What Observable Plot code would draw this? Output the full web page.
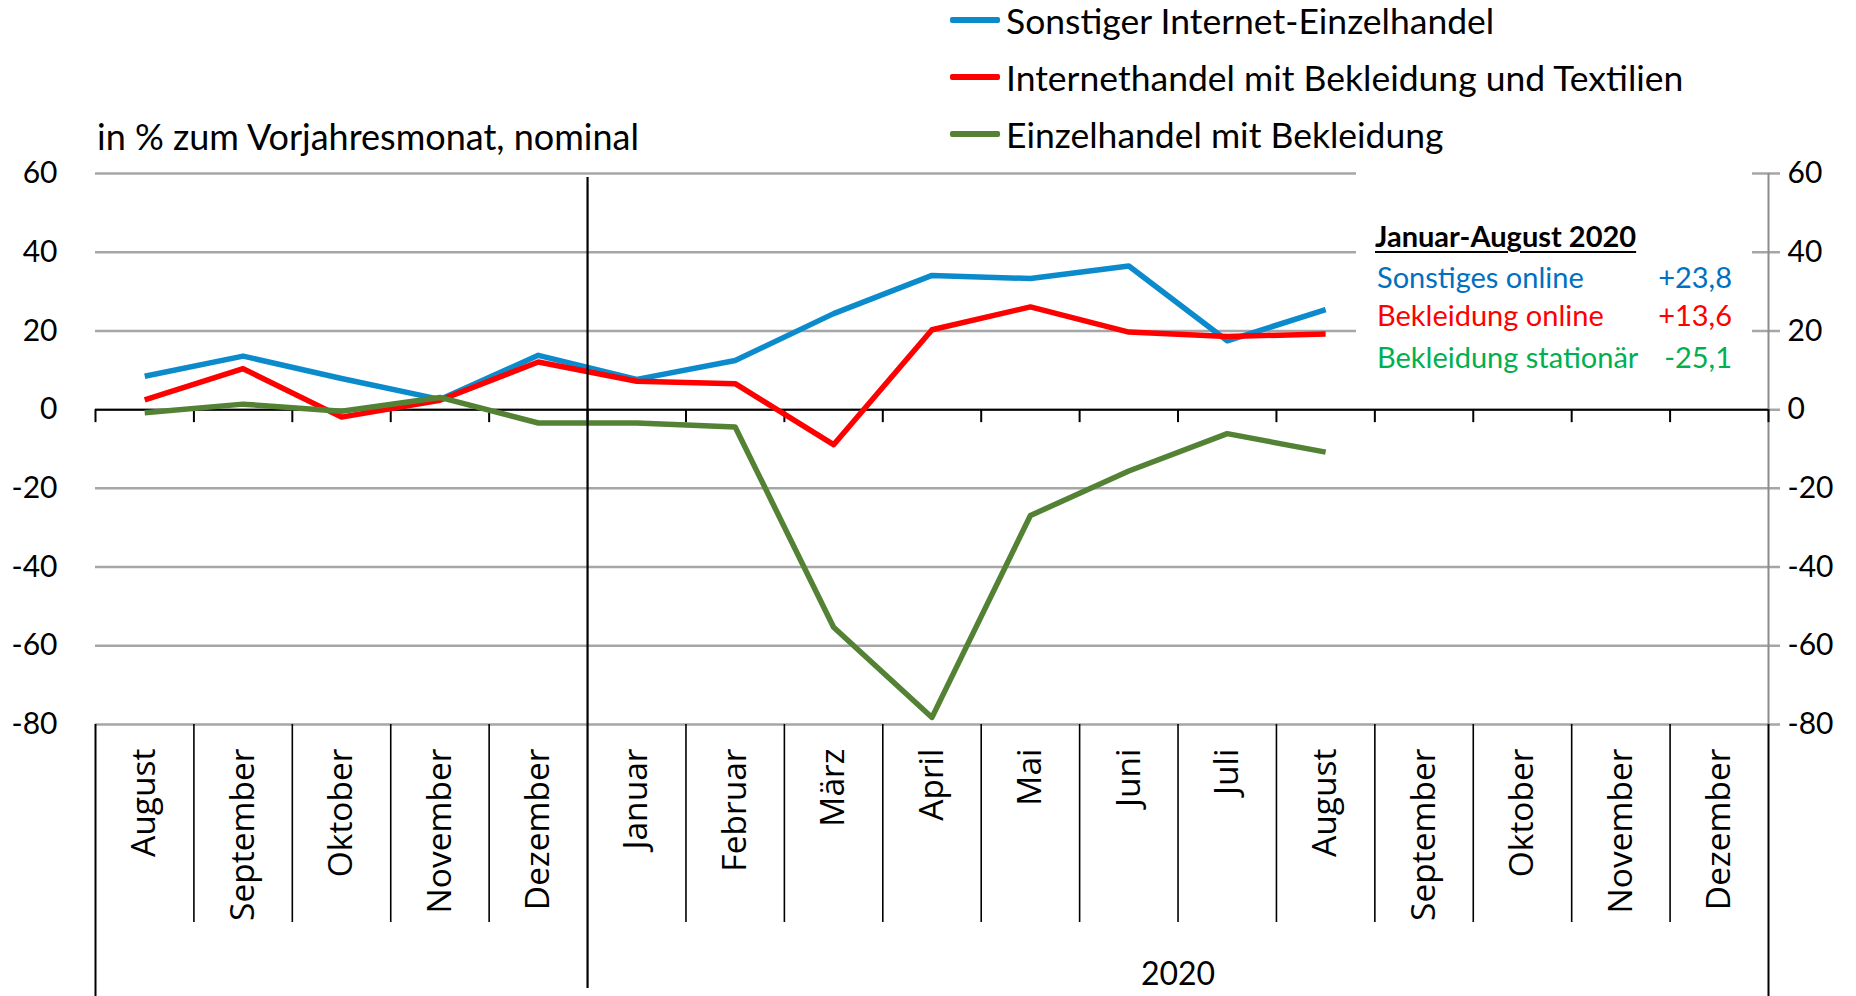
<!DOCTYPE html>
<html>
<head>
<meta charset="utf-8">
<script src="https://cdn.jsdelivr.net/npm/d3@7"></script>
<script src="https://cdn.jsdelivr.net/npm/@observablehq/plot@0.6"></script>
<style>
  html, body { margin: 0; padding: 0; background: #fff; }
  body { width: 1856px; height: 996px; position: relative; overflow: hidden; font-family: Lato, "Open Sans", sans-serif; }
  #chart { position: absolute; left: 0; top: 0; }
  #title { position: absolute; left: 97px; top: 115px; font-size: 36px; line-height: 42px; color: #000; white-space: nowrap; }
  #legend { position: absolute; left: 950px; top: 0; }
  .lg-row { position: absolute; left: 0; height: 42px; display: flex; align-items: center; white-space: nowrap; font-size: 35.5px; color: #000; }
  .lg-sw { width: 50px; height: 6px; margin-right: 6px; border-radius: 2px; }
  #box { position: absolute; left: 1356px; top: 160px; width: 396px; height: 235px; background: #fff; }
  #box .hd { position: absolute; left: 19px; top: 58px; font-size: 29px; font-weight: bold; text-decoration: underline; text-decoration-thickness: 2px; text-underline-offset: 4px; white-space: nowrap; }
  #box .row { position: absolute; left: 21px; width: 355px; font-size: 29px; line-height: 34px; white-space: nowrap; }
  #box .row .v { position: absolute; right: 0; top: 0; }
</style>
</head>
<body>
<div id="chart"></div>
<div id="title"></div>
<div id="legend"></div>
<div id="box"></div>
<script>
// ---- data ----
const months = ["August","September","Oktober","November","Dezember","Januar","Februar","März","April","Mai","Juni","Juli","August","September","Oktober","November","Dezember"];
const yearGroups = [{label: "2020", from: 5, to: 17}];
const yearBreak = 5;
const seriesNames = ["Sonstiger Internet-Einzelhandel", "Internethandel mit Bekleidung und Textilien", "Einzelhandel mit Bekleidung"];
const seriesColors = ["#0b8bcc", "#ff0000", "#548235"];
const sonstigerInternet = [8.5, 13.6, 7.9, 2.6, 13.8, 7.7, 12.5, 24.4, 34.1, 33.3, 36.5, 17.5, 25.4];
const internetBekleidung = [2.5, 10.4, -1.9, 2.4, 12.1, 7.2, 6.6, -8.9, 20.3, 26.1, 19.7, 18.6, 19.2];
const einzelBekleidung = [-0.8, 1.4, -0.4, 3.1, -3.4, -3.4, -4.4, -55.3, -78.2, -26.9, -15.6, -6.1, -10.8];
const yTicks = [-80, -60, -40, -20, 0, 20, 40, 60];
const titleText = "in % zum Vorjahresmonat, nominal";
const summaryTitle = "Januar-August 2020";
const summaryLabels = ["Sonstiges online", "Bekleidung online", "Bekleidung stationär"];
const summaryValues = ["+23,8", "+13,6", "-25,1"];
const summaryColors = ["#0070c0", "#ff0000", "#00b050"];

// ---- build ----
const seriesValues = [sonstigerInternet, internetBekleidung, einzelBekleidung];
const data = seriesNames.flatMap((name, k) => seriesValues[k].map((v, i) => ({series: name, idx: i + 0.5, value: v})));
const n = months.length;

const W = 1856, H = 996;
const mTop = 173, mBottom = 272, mLeft = 95, mRight = 88;
const frameH = H - mTop - mBottom;

const fmt = d => String(d);

const chart = Plot.plot({
  width: W, height: H,
  marginTop: mTop, marginBottom: mBottom, marginLeft: mLeft, marginRight: mRight,
  style: {fontFamily: "Lato, sans-serif", background: "transparent", overflow: "visible", color: "#000"},
  x: {domain: [0, n], axis: null},
  y: {domain: [-80, 60], axis: null},
  color: {domain: seriesNames, range: seriesColors},
  marks: [
    Plot.ruleY(yTicks, {stroke: "#a6a6a6", strokeWidth: 2.5, insetRight: -12}),
    Plot.axisY(yTicks, {anchor: "left", label: null, tickSize: 0, tickPadding: 38, tickFormat: fmt, fontSize: 30, fill: "#000"}),
    Plot.axisY(yTicks, {anchor: "right", label: null, tickSize: 0, tickPadding: 19, tickFormat: fmt, fontSize: 30, fill: "#000", textAnchor: "start"}),
    Plot.ruleX([n], {stroke: "#8c8c8c", strokeWidth: 2}),
    Plot.ruleX([n], {stroke: "#000", strokeWidth: 2, insetTop: frameH, insetBottom: -mBottom}),
    Plot.ruleX([0], {stroke: "#000", strokeWidth: 2, insetTop: frameH, insetBottom: -mBottom}),
    Plot.ruleX(d3.range(1, n).filter(d => d !== yearBreak), {stroke: "#000", strokeWidth: 1.6, insetTop: frameH, insetBottom: -198}),
    Plot.ruleY([0], {stroke: "#000", strokeWidth: 2}),
    Plot.ruleX(d3.range(0, n + 1), {y1: 0, y2: 0, insetBottom: -13, stroke: "#000", strokeWidth: 2}),
    Plot.line(data, {x: "idx", y: "value", z: "series", stroke: "series", strokeWidth: 5.5, strokeLinejoin: "round", strokeLinecap: "butt"}),
    Plot.ruleX([yearBreak], {stroke: "#000", strokeWidth: 2.2, insetTop: 4, insetBottom: -264}),
    Plot.text(months, {x: (d, i) => i + 0.5, text: d => d, frameAnchor: "bottom", dy: 24, rotate: -90, textAnchor: "end", lineAnchor: "middle", fontSize: 33.5, fontFamily: "Open Sans, sans-serif", fill: "#000"}),
    Plot.text(yearGroups, {x: d => (d.from + d.to) / 2, text: "label", frameAnchor: "bottom", dy: 260, fontSize: 32, fill: "#000"})
  ]
});
document.getElementById("chart").appendChild(chart);

document.getElementById("title").textContent = titleText;

const legend = document.getElementById("legend");
seriesNames.forEach((name, k) => {
  const row = document.createElement("div");
  row.className = "lg-row";
  row.style.top = (-1 + k * 57) + "px";
  const sw = document.createElement("div");
  sw.className = "lg-sw";
  sw.style.background = seriesColors[k];
  const tx = document.createElement("span");
  tx.textContent = name;
  row.appendChild(sw); row.appendChild(tx);
  legend.appendChild(row);
});

const box = document.getElementById("box");
const hd = document.createElement("div");
hd.className = "hd"; hd.textContent = summaryTitle;
box.appendChild(hd);
const rowTops = [100, 138, 180];
summaryLabels.forEach((lab, k) => {
  const r = document.createElement("div");
  r.className = "row";
  r.style.top = rowTops[k] + "px";
  r.style.color = summaryColors[k];
  const l = document.createElement("span"); l.textContent = lab;
  const v = document.createElement("span"); v.className = "v"; v.textContent = summaryValues[k];
  r.appendChild(l); r.appendChild(v);
  box.appendChild(r);
});
</script>
</body>
</html>
